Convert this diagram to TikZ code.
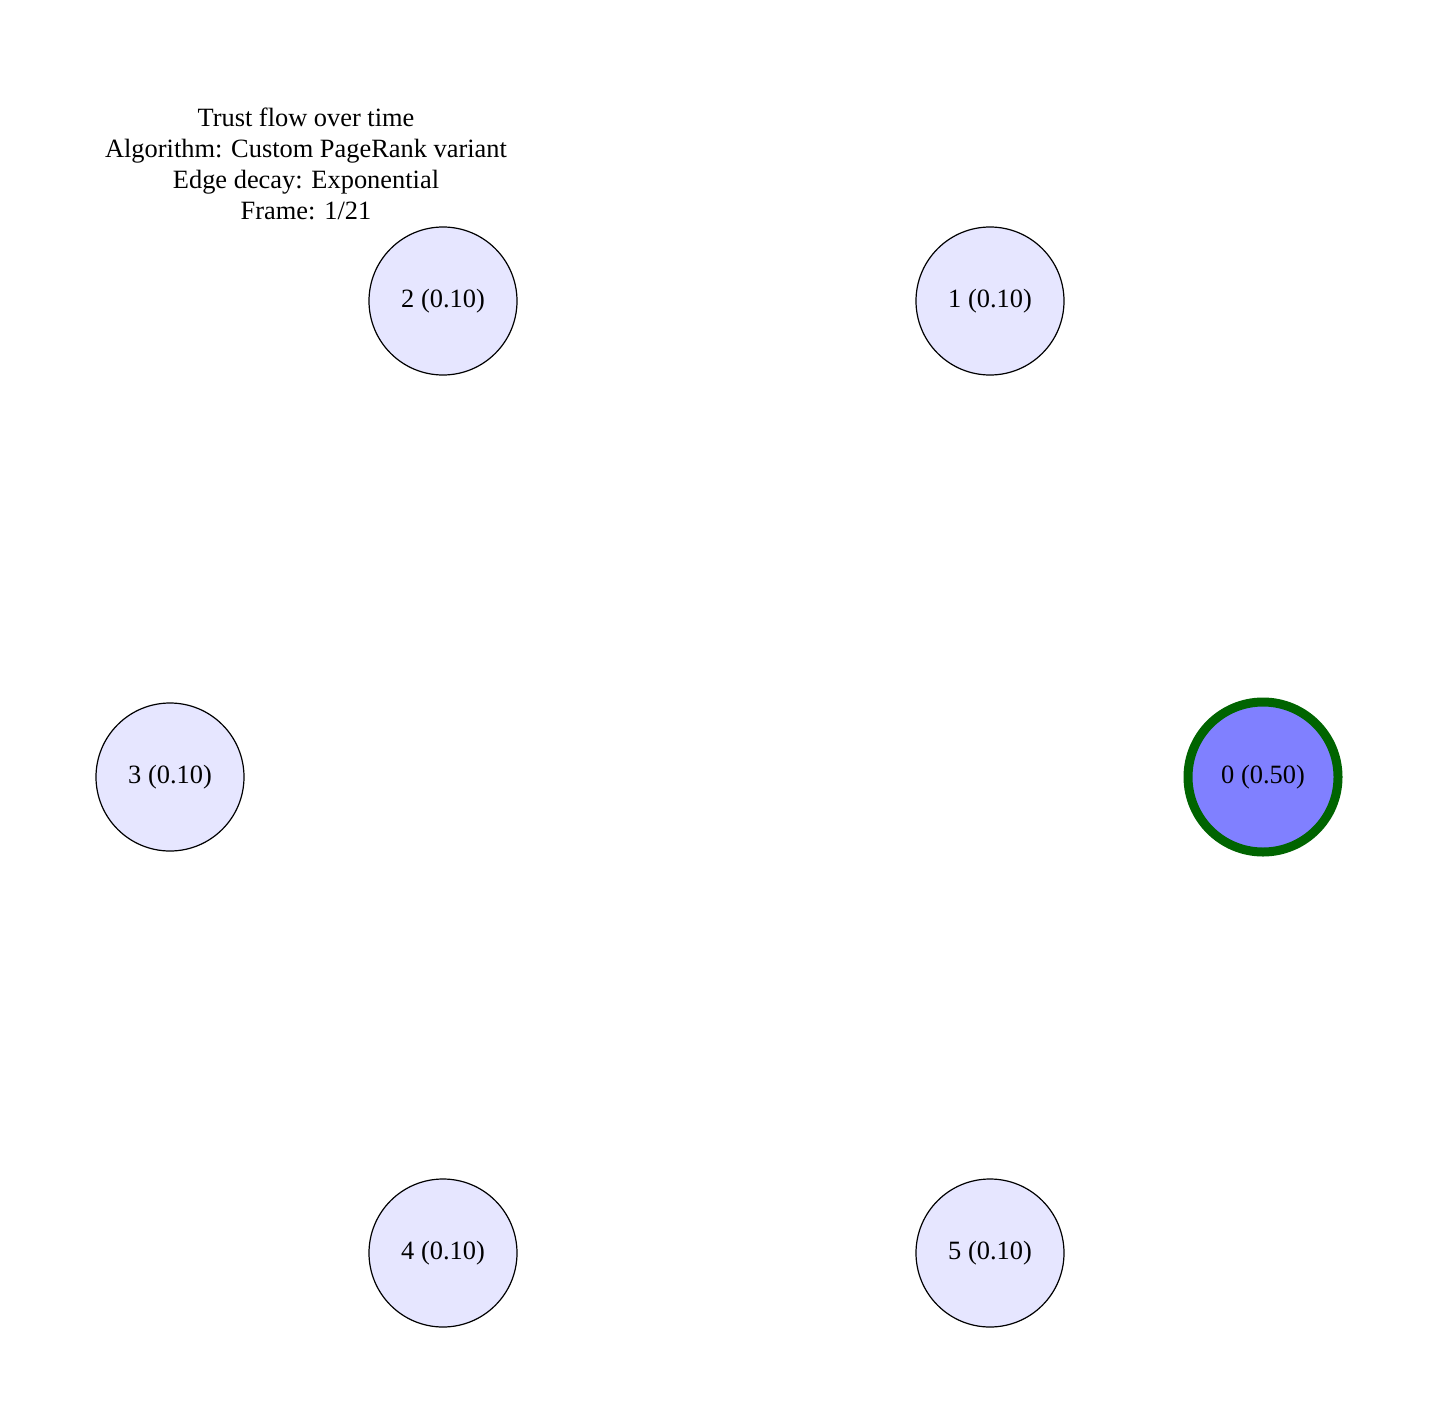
\documentclass[tikz,border=0pt]{standalone}
\usepackage{fontspec}
\setmainfont{Liberation Serif}
\begin{document}
\begin{tikzpicture}[x=0.5bp,y=-0.5bp,
  every node/.style={font=\fontsize{13.2bp}{15.4bp}\selectfont},
  peer/.style={circle,draw=black,line width=0.6bp,fill=lightpeer,minimum size=74bp,inner sep=0pt},
  seed/.style={circle,draw=seedgreen,line width=4.5bp,fill=seedblue,minimum size=75bp,inner sep=0pt}]
\definecolor{lightpeer}{HTML}{E6E6FF}
\definecolor{seedblue}{HTML}{8080FF}
\definecolor{seedgreen}{HTML}{006400}
\useasboundingbox (0,0) rectangle (1434,1423);
\fill[white] (0,0) rectangle (1434,1423);
\node[align=center] (title) at (306,164) {Trust flow over time\\Algorithm: Custom PageRank variant\\Edge decay: Exponential\\Frame: 1/21};
\node[seed] (n0) at (1263,777) {0 (0.50)};
\node[peer] (n1) at (990,301) {1 (0.10)};
\node[peer] (n2) at (443,301) {2 (0.10)};
\node[peer] (n3) at (170,777) {3 (0.10)};
\node[peer] (n4) at (443,1253) {4 (0.10)};
\node[peer] (n5) at (990,1253) {5 (0.10)};
\end{tikzpicture}
\end{document}
